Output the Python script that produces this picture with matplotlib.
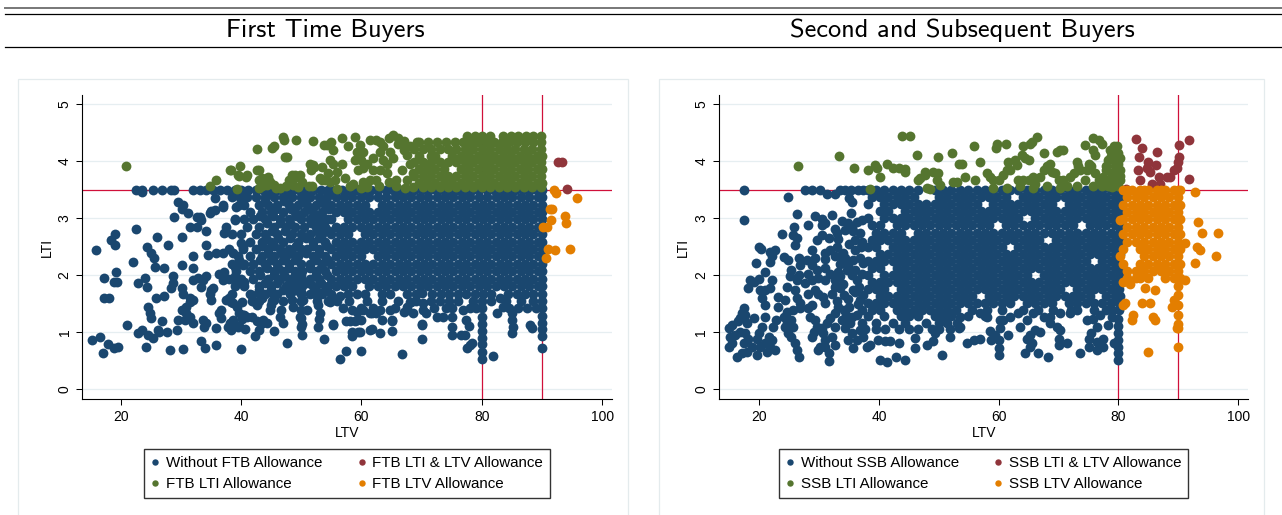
import os
import matplotlib
matplotlib.use('Agg')
import matplotlib.pyplot as plt
from matplotlib.font_manager import FontProperties
from matplotlib.lines import Line2D
from matplotlib.patches import Rectangle

plt.rcParams['font.family'] = ['Liberation Sans', 'DejaVu Sans']

# ---------------- data: (LTI level, [LTV values]) rows + loose (LTV, LTI) points
panel_titles = ['First Time Buyers', 'Second and Subsequent Buyers']
ftb_labels = ['Without FTB Allowance', 'FTB LTI & LTV Allowance', 'FTB LTI Allowance', 'FTB LTV Allowance']
ssb_labels = ['Without SSB Allowance', 'SSB LTI & LTV Allowance', 'SSB LTI Allowance', 'SSB LTV Allowance']
x_ticks = [20, 40, 60, 80, 100]
y_ticks = [0, 1, 2, 3, 4, 5]
lti_limit = 3.5
ftb_ltv_limits = [80, 90]
ssb_ltv_limits = [80, 90]

ftb_without_rows = [
    (3.50, [22.6, 23.6, 25.4, 26.8, 28.4, 28.9, 32.0, 33.1, 34.2, 35.4, 36.5, 37.7, 38.9, 40.0, 41.2, 42.4, 43.6, 44.8, 46.0, 47.2, 48.4, 49.6, 50.8, 52.0, 53.2, 54.4, 55.6, 56.8, 58.0, 59.2, 60.4, 61.6, 62.8, 64.0, 65.2, 66.4, 67.6, 68.8, 70.0, 71.2, 72.4, 73.6, 74.8, 76.0, 77.2, 78.4, 79.6, 80.8, 82.0, 83.2, 84.4, 85.6, 86.8, 88.0, 89.2, 90.0]),
    (3.43, [45.0, 48.0, 51.0, 54.5]),
    (3.37, [38.5, 39.8, 41.0, 42.5, 44.0, 45.5, 47.0, 48.5, 50.0, 51.5, 53.0, 54.2, 55.7, 57.1, 58.5, 59.9, 61.3, 62.7, 64.1, 65.5, 66.9, 68.3, 69.7, 71.1, 72.5, 73.9, 75.3, 76.7, 78.1, 79.5, 80.9, 82.3, 83.7, 85.1, 86.5, 87.9, 89.3, 90.0]),
    (3.30, [44.0, 47.2, 50.5, 53.8]),
    (3.24, [37.0, 40.5, 43.0, 44.5, 46.0, 48.0, 49.5, 51.0, 52.5, 54.0, 55.0, 56.4, 57.8, 59.2, 60.6, 63.4, 64.8, 66.2, 67.6, 69.0, 70.4, 71.8, 73.2, 74.6, 76.0, 77.4, 78.8, 80.2, 81.6, 83.0, 84.4, 85.8, 87.2, 88.6, 90.0]),
    (3.17, [45.8, 48.3, 51.2, 54.6]),
    (3.11, [41.5, 43.5, 45.0, 47.0, 49.0, 50.5, 52.0, 53.5, 55.7, 57.1, 58.5, 59.9, 61.3, 62.7, 64.1, 65.5, 66.9, 68.3, 69.7, 71.1, 72.5, 73.9, 75.3, 76.7, 78.1, 79.5, 80.9, 82.3, 83.7, 85.1, 86.5, 87.9, 89.3, 90.0]),
    (3.04, [43.2, 45.3, 49.2, 52.3]),
    (2.98, [39.0, 40.5, 42.0, 44.0, 46.5, 48.0, 50.0, 51.5, 53.0, 54.3, 55.0, 57.8, 59.2, 60.6, 62.0, 63.4, 64.8, 66.2, 67.6, 69.0, 70.4, 71.8, 73.2, 74.6, 76.0, 77.4, 78.8, 80.2, 81.6, 83.0, 84.4, 85.8, 87.2, 88.6, 90.0]),
    (2.91, [44.3, 46.5, 48.2, 51.6, 53.5]),
    (2.85, [41.0, 43.0, 45.5, 47.5, 49.0, 50.5, 52.5, 54.0, 55.7, 57.1, 58.5, 59.9, 61.3, 62.7, 64.1, 65.5, 66.9, 68.3, 69.7, 71.1, 72.5, 73.9, 75.3, 76.7, 78.1, 79.5, 80.9, 82.3, 83.7, 85.1, 86.5, 87.9, 89.3, 90.0]),
    (2.78, [45.2, 47.3, 52.6, 54.6]),
    (2.72, [38.5, 40.0, 42.5, 44.0, 46.0, 48.5, 50.0, 51.5, 53.5, 55.0, 56.4, 57.8, 60.6, 62.0, 63.4, 64.8, 66.2, 67.6, 69.0, 70.4, 71.8, 73.2, 74.6, 76.0, 77.4, 78.8, 80.2, 81.6, 83.0, 84.4, 85.8, 87.2, 88.6, 90.0]),
    (2.65, [44.2, 46.2, 48.2, 50.8, 53.0]),
    (2.59, [41.5, 43.5, 45.0, 47.0, 49.5, 52.0, 54.0, 55.7, 57.1, 58.5, 59.9, 61.3, 62.7, 64.1, 65.5, 66.9, 68.3, 69.7, 71.1, 72.5, 73.9, 75.3, 76.7, 78.1, 79.5, 80.9, 82.3, 83.7, 85.1, 86.5, 87.9, 89.3, 90.0]),
    (2.52, [43.5, 45.5, 49.2, 52.0, 54.2]),
    (2.46, [38.0, 40.3, 42.5, 44.5, 46.5, 48.0, 50.0, 51.0, 53.0, 55.0, 56.4, 57.8, 59.2, 60.6, 62.0, 63.4, 64.8, 66.2, 67.6, 69.0, 70.4, 71.8, 73.2, 74.6, 76.0, 77.4, 78.8, 80.2, 81.6, 83.0, 84.4, 85.8, 87.2, 88.6, 90.0]),
    (2.39, [44.5, 46.6, 48.5, 50.8, 53.0]),
    (2.33, [39.5, 41.5, 43.5, 45.5, 47.5, 49.5, 52.0, 54.0, 55.7, 57.1, 58.5, 59.9, 62.7, 64.1, 65.5, 66.9, 68.3, 69.7, 71.1, 72.5, 73.9, 75.3, 76.7, 78.1, 79.5, 80.9, 82.3, 83.7, 85.1, 86.5, 87.9, 89.3, 90.0]),
    (2.26, [43.1, 45.0, 47.0, 49.0, 52.5, 54.5]),
    (2.20, [38.5, 40.5, 42.0, 44.0, 46.0, 48.0, 50.0, 51.5, 53.5, 55.0, 56.4, 57.8, 59.2, 60.6, 62.0, 63.4, 64.8, 66.2, 67.6, 69.0, 70.4, 71.8, 73.2, 74.6, 76.0, 77.4, 78.8, 80.2, 81.6, 83.0, 84.4, 85.8, 87.2, 88.6, 90.0]),
    (2.13, [44.3, 46.2, 48.0, 51.5, 53.2]),
    (2.07, [39.2, 41.5, 43.0, 45.5, 47.0, 49.0, 50.2, 52.5, 54.0, 55.7, 57.1, 58.5, 59.9, 61.3, 62.7, 64.1, 65.5, 66.9, 68.3, 69.7, 71.1, 72.5, 73.9, 75.3, 76.7, 78.1, 79.5, 80.9, 82.3, 83.7, 85.1, 86.5, 87.9, 89.3, 90.0]),
    (2.00, [43.2, 45.5, 47.2, 49.0, 52.5, 54.2]),
    (1.94, [38.0, 40.0, 42.0, 44.5, 46.5, 48.0, 50.0, 51.5, 53.0, 55.0, 56.4, 57.8, 59.2, 60.6, 62.0, 63.4, 64.8, 66.2, 67.6, 69.0, 70.4, 71.8, 73.2, 74.6, 76.0, 77.4, 78.8, 80.2, 81.6, 83.0, 84.4, 85.8, 87.2, 88.6, 90.0]),
    (1.87, [44.0, 46.0, 48.6, 51.2, 53.2]),
    (1.81, [39.0, 40.5, 43.0, 45.0, 47.5, 49.5, 50.2, 52.0, 54.5, 55.7, 57.1, 58.5, 61.3, 62.7, 64.1, 65.5, 66.9, 68.3, 69.7, 71.1, 72.5, 73.9, 75.3, 76.7, 78.1, 79.5, 80.9, 82.3, 83.7, 85.1, 86.5, 87.9, 89.3, 90.0]),
    (1.74, [43.0, 45.0, 47.0, 49.0, 52.5, 54.0]),
    (1.68, [38.5, 41.5, 44.0, 46.0, 48.1, 50.0, 51.5, 53.5, 55.0, 57.8, 59.2, 60.6, 63.4, 64.8, 67.6, 69.0, 71.8, 73.2, 74.6, 76.0, 77.4, 78.8, 80.2, 81.6, 84.4, 85.8, 87.2, 88.6, 90.0]),
    (1.55, [41.8, 42.9, 45.1, 47.0, 50.0, 52.6, 54.5, 56.0, 58.0, 61.0, 63.5, 66.0, 69.0, 71.5, 73.0, 74.5, 76.0, 78.5, 80.0, 81.5, 84.0, 86.5, 88.5, 90.0]),
    (1.42, [57.0, 62.0, 65.5, 72.0, 74.0, 75.0, 78.0, 79.0, 80.0, 84.5, 86.0, 87.5, 89.0, 90.0]),
]
ftb_without_pts = [
    (15.2, .87), (15.9, 2.44), (16.6, .91), (17.0, .63), (17.2, 1.95), (17.2, 1.6), (18.0, 1.61), (17.8, .8), (18.4, 2.62),
    (19.1, 2.73), (19.1, 2.53), (19.2, 2.05), (18.8, 1.89), (19.4, 1.89), (18.9, .72), (19.6, .75), (21.0, 1.13), (22.1, 2.24),
    (22.6, 2.82), (23.6, 3.47), (22.8, 1.86), (22.9, .99), (23.5, 1.04), (24.0, 1.95), (24.3, 1.8), (24.3, 2.5), (24.2, .75),
    (24.6, .95), (25.4, .9), (24.6, 1.45), (24.8, 1.33), (25.0, 1.25), (25.1, 2.39), (25.5, 2.3), (25.7, 2.15), (25.8, 1.6),
    (26.1, 2.67), (26.2, 1.04), (26.4, 1.01), (26.8, 1.19), (27.1, 2.12), (27.2, 1.63), (27.7, 1.0), (27.8, 2.53), (28.2, .69),
    (28.4, 1.77), (28.7, 1.98), (28.7, 1.86), (28.8, 3.03), (29.4, 1.04), (29.5, 3.29), (30.3, 3.23), (30.1, 3.17), (30.1, 2.68),
    (30.1, 2.18), (30.2, 1.77), (30.3, 1.68), (30.4, .7), (29.5, 1.22), (30.6, 1.22), (30.9, 1.33), (30.1, 1.39), (30.9, 1.45),
    (31.5, 1.27), (32.0, 1.16), (31.5, 1.6), (31.5, 1.54), (32.0, 1.57), (31.2, 3.09), (31.5, 2.85), (32.0, 2.33), (32.0, 2.12),
    (32.0, 1.92), (32.8, 1.95), (32.6, 3.03), (33.1, 3.03), (33.4, 2.97), (32.6, 2.85), (33.4, .84), (34.0, .72), (33.7, 1.21),
    (34.2, 1.16), (33.9, 1.1), (33.7, 1.92), (34.2, 1.98), (33.4, 1.8), (34.2, 2.77), (34.2, 2.53), (34.5, 2.36), (34.8, 3.09),
    (35.0, 3.12), (35.6, 3.15), (34.8, 1.68), (35.0, 1.74), (35.3, 1.77), (35.0, 1.57), (35.6, 3.35), (35.9, .78), (35.9, 1.07),
    (35.9, 2.39), (36.4, 1.33), (36.7, 1.39), (36.7, 1.25), (36.4, 2.03), (37.0, 1.92), (37.2, 2.06), (37.0, 3.2), (37.2, 2.74),
    (37.5, 2.85), (37.0, 2.39), (37.8, 1.1), (38.3, 1.07), (38.6, 1.22), (38.1, 1.16), (38.0, 1.6), (37.5, 1.57), (38.3, 1.54),
    (38.6, 2.39), (38.9, 2.15), (38.9, 1.98), (39.2, 1.86), (38.9, 2.97), (39.2, 3.2), (40.0, .71), (39.7, 1.33), (40.3, 1.3),
    (39.4, 1.1), (40.0, 2.56), (40.3, 2.5), (39.7, 2.27), (40.3, 2.18), (39.7, 1.92), (40.5, 1.89), (39.6, 3.23), (39.8, 3.38),
    (42.3, .94), (47.7, .82), (50.1, .95), (53.8, .89), (56.4, .54), (57.4, .68), (60.0, .68), (66.7, .62), (55.2, 1.15),
    (57.5, 1.19), (58.9, 1.19), (60.0, 1.22), (58.4, 1.01), (59.5, 1.01), (61.4, 1.04), (63.1, .98), (65.0, 1.03), (65.0, 1.2),
    (70.0, .89), (70.0, 1.15), (52.8, 1.1), (53.0, 1.23), (50.2, 1.15), (49.8, 1.27), (47.0, 1.16), (46.5, 1.27), (46.7, 1.39),
    (44.8, 1.39), (44.9, 1.48), (43.7, 1.22), (44.3, 1.16), (45.4, 1.03), (42.9, 1.04), (43.3, 1.15), (42.6, 1.19), (41.8, 1.27),
    (41.0, 1.27), (40.4, 1.3), (38.7, 1.2), (38.4, 1.04), (39.7, 1.11), (40.6, 1.05), (40.1, 1.23), (38.7, 1.51), (39.3, 1.45),
    (40.1, 1.54), (42.3, 1.54), (42.6, 1.48), (41.8, 1.66), (42.9, 1.69), (43.4, 1.6), (45.1, 1.69), (45.4, 1.57), (48.4, 1.57),
    (48.7, 1.45), (48.1, 1.77), (48.9, 1.74), (50.3, 1.57), (50.9, 1.39), (52.6, 1.63), (52.8, 1.48), (53.1, 1.33), (54.8, 1.54),
    (55.6, 1.57), (56.4, 1.63), (58.4, 1.39), (59.2, 1.36), (60.0, 1.42), (61.4, 1.33), (62.5, 1.33), (63.4, 1.22), (65.0, 1.22),
    (67.0, 1.36), (67.5, 1.45), (68.3, 1.54), (70.0, 1.69), (70.3, 1.51), (70.8, 1.33), (58.4, .93), (59.8, 1.01), (61.7, 1.05),
    (70.0, 1.13), (70.3, 1.39), (72.5, 1.27), (73.6, 1.26), (75.0, .95), (75.0, 1.1), (75.0, 1.27), (76.6, .95), (77.2, .95),
    (77.6, .72), (78.0, .78), (78.3, .81), (80.0, .53), (80.0, .66), (80.0, .79), (80.0, .9), (80.0, 1.02), (80.0, 1.14),
    (80.0, 1.26), (81.9, .58), (85.0, .98), (85.2, 1.1), (85.0, 1.22), (85.0, 1.34), (88.0, 1.13), (88.3, 1.07), (90.0, .73),
    (90.0, .93), (90.0, 1.05), (90.0, 1.17), (90.0, 1.29), (83.0, 1.6), (83.6, 1.45), (82.5, 1.33), (77.4, 1.21), (77.8, 1.11),
    (76.9, 1.39), (67.5, 1.4), (68.6, 1.33), (68.0, 1.54), (64.7, 1.39), (63.1, 1.39), (61.7, 1.33), (60.3, 1.39), (59.2, 1.22),
    (58.1, 1.19), (55.2, 1.12), (49.9, 1.1), (49.9, 1.25), (49.9, 1.4), (49.9, 1.55), (49.9, 1.7), (49.9, 1.85), (49.9, 2.0),
]
ftb_both_pts = [(92.6, 3.99), (93.3, 3.99), (94.1, 3.51)]
ftb_lti_rows = [
    (4.44, [77.5, 78.8, 80.0, 81.3, 83.5, 84.8, 86.0, 87.3, 88.5, 89.8]),
    (4.34, [69.5, 71.0, 72.5, 74.0, 75.5, 76.8, 78.1, 79.4, 80.7, 82.0, 83.3, 84.6, 85.9, 87.2, 88.5, 89.8]),
    (4.22, [68.8, 70.2, 71.6, 73.0, 74.4, 75.8, 77.2, 78.6, 80.0, 81.4, 82.8, 84.2, 85.6, 87.0, 88.4, 89.8]),
    (4.10, [69.5, 71.5, 72.3, 75.1, 76.5, 77.9, 79.3, 80.7, 82.1, 83.5, 84.9, 86.3, 87.7, 89.1, 90.0]),
    (3.98, [68.8, 70.2, 71.6, 73.0, 74.4, 75.8, 77.2, 78.6, 80.0, 81.4, 82.8, 84.2, 85.6, 87.0, 88.4, 89.8]),
    (3.86, [69.5, 70.9, 72.3, 73.7, 76.5, 77.9, 79.3, 80.7, 82.1, 83.5, 84.9, 86.3, 87.7, 89.1, 90.0]),
    (3.74, [68.8, 70.2, 71.6, 73.0, 74.4, 75.8, 77.2, 78.6, 80.0, 81.4, 82.8, 84.2, 85.6, 87.0, 88.4, 89.8]),
    (3.62, [69.5, 70.9, 72.3, 73.7, 75.1, 76.5, 77.9, 79.3, 80.7, 82.1, 83.5, 84.9, 86.3, 87.7, 89.1, 90.0]),
    (3.55, [68.5, 70.2, 71.6, 73.0, 74.4, 75.8, 77.2, 78.6, 80.0, 81.4, 82.8, 84.2, 85.6, 87.0, 88.4, 89.8]),
]
ftb_lti_pts = [
    (20.9, 3.92), (34.8, 3.57), (35.8, 3.68), (38.2, 3.84), (39.3, 3.52), (39.8, 3.92), (39.6, 3.74), (40.8, 3.73), (38.4, 3.85),
    (39.5, 3.76), (40.9, 3.76), (42.6, 4.21), (42.6, 3.84), (42.9, 3.85), (43.0, 3.67), (43.5, 3.7), (43.0, 3.53), (43.7, 3.67),
    (44.8, 3.64), (43.4, 3.56), (44.3, 3.58), (44.4, 3.73), (44.6, 3.65), (45.4, 3.58), (45.2, 4.23), (45.4, 4.26), (45.8, 3.53),
    (46.5, 3.53), (46.9, 4.42), (47.1, 4.38), (47.3, 4.07), (47.6, 4.08), (47.4, 3.56), (48.0, 3.67), (48.5, 3.76), (48.7, 3.58),
    (49.0, 3.76), (49.1, 3.73), (49.2, 4.37), (49.5, 3.55), (49.8, 3.76), (50.1, 3.64), (51.4, 3.96), (51.6, 3.85), (51.9, 3.94),
    (52.1, 3.9), (51.9, 4.35), (51.3, 3.56), (51.7, 3.56), (53.1, 3.7), (53.5, 3.67), (53.9, 3.67), (53.8, 4.29), (53.5, 3.9),
    (54.2, 4.29), (54.5, 3.79), (54.8, 3.64), (54.8, 4.02), (55.0, 4.34), (55.3, 3.96), (55.3, 4.2), (55.6, 3.67), (55.9, 3.82),
    (55.9, 3.52), (56.7, 4.4), (57.8, 4.26), (58.9, 4.43), (59.7, 4.29), (59.2, 4.17), (60.3, 4.17), (58.9, 4.02), (60.0, 4.02),
    (60.3, 3.88), (59.5, 3.85), (62.0, 3.85), (61.4, 3.67), (60.3, 3.64), (58.6, 3.61), (58.1, 3.56), (60.0, 3.53), (62.5, 4.37),
    (63.1, 4.34), (63.6, 4.26), (64.5, 4.4), (65.3, 4.46), (66.1, 4.4), (66.1, 4.31), (64.7, 4.17), (65.3, 4.05), (63.1, 4.17),
    (63.6, 4.02), (64.2, 3.96), (62.0, 4.05), (63.1, 3.85), (64.2, 3.79), (62.5, 3.67), (64.5, 3.64), (65.8, 3.67), (65.8, 3.56),
    (67.2, 3.53), (68.1, 3.96), (67.5, 4.11), (68.1, 4.26), (67.0, 4.2), (69.2, 4.34), (68.6, 3.79), (67.5, 3.67), (60.9, 3.96),
    (61.4, 4.37), (57.2, 3.7), (56.8, 3.95), (61.0, 3.55), (63.0, 3.56), (66.8, 3.85), (67.0, 4.35),
]
ftb_ltv_pts = [
    (92.0, 3.5), (92.3, 3.45), (95.9, 3.35), (91.3, 3.17), (91.7, 3.16), (91.5, 2.97), (93.9, 3.04), (94.0, 2.91),
    (90.1, 2.84), (90.8, 2.84), (91.0, 2.47), (92.1, 2.44), (94.6, 2.46), (90.7, 2.3),
]

ssb_without_rows = [
    (3.50, [17.5, 27.7, 28.9, 30.2, 33.5, 34.4, 35.4, 36.5, 37.4, 38.1, 39.5, 40.9, 42.3, 43.7, 45.1, 46.5, 49.3, 50.7, 52.1, 53.5, 54.9, 56.3, 57.7, 59.1, 60.5, 61.9, 63.3, 64.7, 66.1, 67.5, 68.9, 70.3, 71.7, 73.1, 74.5, 75.9, 77.3, 78.7, 80.1]),
    (3.42, [31.3, 32.7]),
    (3.38, [38.8, 40.2, 41.6, 43.0, 44.4, 45.8, 50.0, 51.4, 52.8, 54.2, 55.6, 57.0, 58.4, 59.8, 61.2, 64.0, 65.4, 66.8, 68.2, 69.6, 71.0, 72.4, 73.8, 75.2, 76.6, 78.0, 79.4, 80.3]),
    (3.25, [38.1, 40.9, 42.3, 43.7, 45.1, 46.5, 47.9, 49.3, 50.7, 52.1, 53.5, 54.9, 56.3, 59.1, 60.5, 61.9, 63.3, 64.7, 66.1, 67.5, 68.9, 71.7, 73.1, 74.5, 75.9, 77.3, 78.7, 80.1]),
    (3.12, [40.2, 41.6, 44.4, 45.8, 47.2, 48.6, 50.0, 51.4, 52.8, 54.2, 55.6, 57.0, 58.4, 59.8, 61.2, 62.6, 64.0, 65.4, 66.8, 68.2, 69.6, 71.0, 72.4, 73.8, 75.2, 76.6, 78.0, 79.4, 80.3]),
    (3.00, [38.1, 40.9, 42.3, 43.7, 45.1, 46.5, 47.9, 49.3, 50.7, 52.1, 53.5, 54.9, 56.3, 57.7, 59.1, 60.5, 61.9, 63.3, 66.1, 67.5, 68.9, 70.3, 71.7, 73.1, 74.5, 75.9, 77.3, 78.7, 80.1]),
    (2.88, [38.8, 40.2, 43.0, 44.4, 45.8, 47.2, 48.6, 50.0, 51.4, 52.8, 54.2, 55.6, 57.0, 58.4, 61.2, 62.6, 64.0, 65.4, 66.8, 68.2, 69.6, 71.0, 72.4, 75.2, 76.6, 78.0, 79.4, 80.3]),
    (2.75, [39.5, 40.9, 42.3, 43.7, 46.5, 47.9, 49.3, 50.7, 52.1, 53.5, 54.9, 56.3, 57.7, 59.1, 60.5, 61.9, 63.3, 64.7, 66.1, 67.5, 68.9, 70.3, 71.7, 73.1, 74.5, 75.9, 77.3, 78.7, 80.1]),
    (2.62, [38.8, 40.2, 41.6, 43.0, 44.4, 45.8, 47.2, 48.6, 50.0, 51.4, 52.8, 54.2, 55.6, 57.0, 58.4, 59.8, 61.2, 62.6, 64.0, 65.4, 66.8, 69.6, 71.0, 72.4, 73.8, 75.2, 76.6, 78.0, 79.4, 80.3]),
    (2.50, [38.1, 39.5, 42.3, 43.7, 45.1, 46.5, 47.9, 49.3, 50.7, 52.1, 53.5, 54.9, 56.3, 57.7, 59.1, 60.5, 63.3, 64.7, 66.1, 67.5, 68.9, 70.3, 71.7, 73.1, 74.5, 75.9, 77.3, 78.7, 80.1]),
    (2.38, [40.2, 41.6, 43.0, 44.4, 45.8, 47.2, 48.6, 50.0, 51.4, 52.8, 54.2, 55.6, 57.0, 58.4, 59.8, 61.2, 62.6, 64.0, 65.4, 66.8, 68.2, 69.6, 71.0, 72.4, 73.8, 75.2, 76.6, 78.0, 79.4, 80.3]),
    (2.25, [38.1, 39.5, 40.9, 42.3, 43.7, 45.1, 46.5, 47.9, 49.3, 50.7, 52.1, 53.5, 54.9, 56.3, 57.7, 59.1, 60.5, 61.9, 63.3, 64.7, 66.1, 67.5, 68.9, 70.3, 71.7, 73.1, 74.5, 77.3, 78.7, 80.1]),
    (2.12, [38.8, 40.2, 43.0, 44.4, 45.8, 47.2, 48.6, 50.0, 51.4, 52.8, 54.2, 55.6, 57.0, 58.4, 59.8, 61.2, 62.6, 64.0, 65.4, 66.8, 68.2, 69.6, 71.0, 72.4, 73.8, 75.2, 76.6, 78.0, 79.4, 80.3]),
    (2.00, [38.1, 40.9, 42.3, 43.7, 45.1, 46.5, 47.9, 49.3, 50.7, 52.1, 53.5, 54.9, 56.3, 57.7, 59.1, 60.5, 61.9, 63.3, 64.7, 67.5, 68.9, 70.3, 71.7, 73.1, 74.5, 75.9, 77.3, 78.7, 80.1]),
    (1.88, [38.8, 40.2, 41.6, 43.0, 44.4, 45.8, 47.2, 48.6, 50.0, 51.4, 52.8, 54.2, 55.6, 57.0, 58.4, 59.8, 61.2, 62.6, 64.0, 65.4, 66.8, 68.2, 69.6, 71.0, 72.4, 73.8, 75.2, 76.6, 78.0, 79.4, 80.3]),
    (1.76, [38.1, 39.5, 40.9, 43.7, 45.1, 46.5, 47.9, 49.3, 50.7, 52.1, 53.5, 54.9, 56.3, 57.7, 59.1, 60.5, 61.9, 63.3, 64.7, 66.1, 67.5, 68.9, 70.3, 73.1, 74.5, 75.9, 77.3, 78.7, 80.1]),
    (1.64, [40.2, 41.6, 43.0, 44.4, 45.8, 47.2, 48.6, 50.0, 51.4, 52.8, 54.2, 55.6, 58.4, 59.8, 61.2, 62.6, 64.0, 65.4, 66.8, 68.2, 69.6, 71.0, 72.4, 73.8, 75.2, 78.0, 79.4, 80.3]),
    (1.52, [38.1, 39.5, 40.9, 42.3, 43.7, 45.1, 46.5, 47.9, 49.3, 50.7, 52.1, 53.5, 54.9, 56.3, 57.7, 59.1, 60.5, 61.9, 64.7, 66.1, 67.5, 68.9, 71.7, 73.1, 74.5, 75.9, 77.3, 78.7, 80.1]),
    (1.40, [38.8, 40.2, 43.0, 44.4, 45.8, 47.2, 48.6, 50.0, 51.4, 52.8, 55.5, 58.0, 60.5, 64.0, 66.5, 69.0, 72.0, 76.0, 79.0, 80.1]),
    (1.28, [38.1, 40.9, 43.7, 45.1, 46.5, 49.3, 50.7, 52.1, 54.9, 57.7]),
    (1.16, [39.5, 42.3, 44.4, 47.9, 50.0, 51.4, 53.0]),
    (1.05, [37.7, 39.5, 41.0, 43.3, 45.0, 46.6, 48.8, 50.0, 51.9]),
]
ssb_without_pts = [
    (17.5, 2.97), (24.9, 3.38), (35.0, 3.35), (35.5, 3.29), (26.3, 3.07), (29.3, 3.04), (32.1, 3.06), (30.5, 2.98), (35.4, 3.1),
    (28.2, 2.89), (31.0, 2.91), (33.8, 2.95), (36.3, 2.94), (37.1, 2.97), (25.9, 2.84), (30.5, 2.88), (32.7, 2.81), (34.9, 2.91),
    (35.7, 2.77), (34.4, 2.79), (36.9, 2.74), (23.9, 2.72), (25.7, 2.71), (26.3, 2.65), (26.0, 2.53), (29.6, 2.62), (30.5, 2.71),
    (31.6, 2.65), (33.2, 2.63), (36.0, 2.62), (37.1, 2.59), (19.9, 2.5), (20.3, 2.46), (21.8, 2.41), (22.7, 2.44), (22.1, 2.33),
    (24.1, 2.32), (24.9, 2.27), (26.6, 2.3), (26.8, 2.18), (28.0, 2.27), (28.8, 2.44), (29.3, 2.3), (28.8, 2.18), (31.0, 2.28),
    (31.0, 2.39), (31.8, 2.44), (32.7, 2.33), (33.5, 2.33), (34.4, 2.3), (34.9, 2.18), (35.7, 2.27), (36.9, 2.3), (37.4, 2.21),
    (19.4, 2.22), (21.8, 2.24), (25.4, 2.09), (26.6, 2.01), (25.2, 1.98), (28.2, 2.03), (29.6, 2.09), (31.0, 2.12), (31.8, 2.03),
    (33.2, 2.06), (33.5, 1.98), (32.7, 1.92), (34.6, 2.09), (35.5, 2.01), (36.3, 1.92), (37.1, 2.03), (31.0, 1.92), (29.9, 1.95),
    (28.8, 1.92), (27.7, 1.86), (26.3, 1.92), (21.0, 2.05), (22.1, 1.92), (21.0, 1.74), (21.8, 1.77), (19.9, 1.93), (18.5, 1.92),
    (18.2, 1.77), (19.1, 1.89), (20.1, 1.74), (20.4, 1.6), (21.0, 1.48), (23.2, 1.62), (24.3, 1.57), (24.6, 1.8), (26.0, 1.74),
    (26.3, 1.6), (26.8, 1.51), (28.2, 1.68), (29.3, 1.74), (29.9, 1.68), (30.7, 1.62), (31.0, 1.51), (32.1, 1.68), (32.7, 1.8),
    (33.5, 1.77), (34.1, 1.65), (34.9, 1.59), (35.7, 1.74), (36.6, 1.8), (36.9, 1.57), (37.4, 1.65), (17.4, 1.42), (16.8, 1.25),
    (16.5, 1.19), (15.4, 1.13), (14.9, 1.07), (15.2, .92), (16.0, .95), (17.1, 1.33), (17.7, 1.3), (17.9, 1.16), (19.1, 1.25),
    (16.8, 1.01), (17.7, .98), (18.2, .89), (17.4, .81), (15.4, .81), (14.9, .75), (16.3, .57), (17.1, .63), (17.9, .66),
    (18.8, .75), (19.6, .89), (19.9, .98), (20.2, .75), (21.0, .81), (21.6, .92), (22.1, .86), (21.8, .75), (22.7, .69),
    (21.3, .66), (19.6, .6), (21.0, 1.27), (20.4, 1.1), (22.4, 1.1), (22.9, 1.22), (24.1, 1.27), (24.6, 1.16), (25.4, 1.22),
    (25.7, 1.1), (24.9, .98), (25.4, .92), (26.0, .81), (26.3, .69), (26.6, .57), (24.3, 1.1), (23.2, 1.45), (24.6, 1.36),
    (25.7, 1.39), (26.8, 1.42), (28.2, 1.42), (28.8, 1.48), (28.5, 1.27), (29.3, 1.22), (29.6, 1.1), (29.1, 1.01), (28.8, .92),
    (30.5, 1.07), (30.7, .98), (31.0, .87), (30.2, .75), (29.9, .69), (31.0, .75), (31.6, .63), (32.7, .78), (32.1, .92),
    (31.3, 1.16), (31.8, 1.25), (32.7, 1.33), (33.2, 1.45), (34.1, 1.39), (33.8, 1.22), (32.7, 1.1), (34.4, 1.07), (35.2, 1.16),
    (35.5, 1.27), (36.3, 1.3), (37.1, 1.39), (35.5, .98), (34.9, .87), (35.7, .72), (36.3, .87), (36.9, 1.04), (37.1, 1.16),
    (37.4, .92), (31.6, .49), (33.0, 2.5), (34.0, 2.4), (35.0, 2.55), (36.0, 2.45), (37.0, 2.5), (33.5, 2.2), (36.0, 2.1),
    (34.0, 1.85), (36.0, 1.7), (33.0, 1.55), (35.0, 1.45), (36.5, 1.5), (34.5, 1.3), (33.0, 2.75), (35.5, 2.85),
    (38.0, .75), (38.5, .78), (39.9, .87), (41.0, .84), (41.9, .84), (43.3, .81), (40.2, .51), (41.3, .48), (42.8, .56),
    (44.4, .52), (46.0, .72), (46.0, .9), (48.0, .78), (49.1, .84), (49.4, .98), (50.5, .6), (51.9, .92), (53.3, 1.07),
    (54.7, .81), (55.8, .86), (56.9, .89), (58.8, .87), (60.0, .87), (58.6, 1.03), (60.2, 1.22), (60.0, .6), (60.0, .72),
    (59.4, .95), (60.2, 1.07), (61.6, .95), (63.6, 1.1), (64.7, .89), (65.2, .75), (65.5, .81), (65.2, .95), (64.4, .63),
    (66.6, .64), (68.3, .57), (66.1, 1.04), (66.9, 1.01), (70.0, .89), (70.0, .78), (71.4, .81), (68.6, 1.16), (69.7, 1.1),
    (70.3, 1.04), (73.6, .63), (75.0, .75), (76.4, .69), (77.5, .75), (76.4, .83), (75.0, .89), (75.5, .98), (76.4, 1.1),
    (78.3, 1.13), (77.5, .89), (79.3, .81), (80.0, .51), (80.0, .63), (80.0, .75), (80.0, .87), (80.0, .99), (80.0, 1.11),
    (80.0, 1.23), (53.6, 1.1), (53.6, 1.27), (56.9, 1.33), (58.0, 1.27), (60.8, 1.21), (61.9, 1.27), (63.3, 1.33), (64.7, 1.21),
    (65.8, 1.33), (67.5, 1.27), (68.6, 1.27), (70.3, 1.33), (71.9, 1.33), (73.0, 1.39), (74.7, 1.21), (75.8, 1.24), (76.9, 1.3),
    (78.0, 1.39), (78.9, 1.27),
]
ssb_both_pts = [
    (82.9, 4.39), (83.9, 4.24), (83.4, 4.07), (86.4, 4.16), (85.0, 3.99), (84.7, 3.88), (85.3, 3.82), (83.2, 3.85),
    (83.6, 3.67), (86.3, 3.93), (86.8, 3.72), (88.1, 3.72), (89.2, 3.84), (89.7, 3.88), (90.0, 3.99), (90.1, 4.07),
    (90.1, 4.29), (91.8, 4.37), (91.8, 3.69), (85.6, 3.61), (86.9, 3.61), (81.2, 3.51), (88.6, 3.72),
]
ssb_lti_pts = [
    (26.5, 3.91), (33.4, 4.09), (35.9, 3.89), (38.2, 3.84), (39.4, 3.94), (39.6, 3.88), (38.5, 3.52), (40.2, 3.72), (41.3, 3.96),
    (42.4, 3.89), (43.3, 3.89), (44.4, 3.86), (44.4, 3.82), (43.8, 4.44), (45.2, 4.44), (46.3, 4.11), (46.6, 3.67), (46.9, 3.7),
    (47.7, 3.82), (47.7, 3.76), (48.0, 3.53), (48.5, 3.52), (49.1, 3.82), (49.9, 3.79), (49.9, 4.08), (49.7, 3.67), (50.2, 3.58),
    (52.2, 4.15), (52.4, 3.64), (53.0, 3.64), (53.3, 3.96), (55.8, 4.27), (59.7, 4.31), (59.6, 4.23), (61.2, 4.31), (64.1, 4.27),
    (65.2, 4.31), (65.5, 4.34), (66.4, 4.42), (63.9, 4.11), (64.4, 4.05), (65.0, 4.02), (67.5, 4.14), (69.7, 4.17), (70.3, 4.2),
    (70.8, 4.2), (74.4, 4.29), (75.8, 4.4), (76.7, 4.38), (77.2, 4.31), (75.8, 4.2), (76.1, 4.11), (53.8, 3.96), (54.4, 3.73),
    (56.1, 3.67), (56.9, 3.99), (58.0, 3.79), (58.6, 3.73), (59.1, 3.67), (60.0, 3.67), (60.8, 3.76), (61.6, 3.99), (61.4, 3.85),
    (61.9, 3.85), (62.7, 4.02), (63.0, 3.93), (63.3, 3.67), (64.1, 3.67), (65.0, 3.67), (65.8, 3.73), (66.1, 3.61), (66.9, 3.73),
    (67.5, 3.85), (68.0, 3.91), (68.6, 3.96), (68.9, 3.82), (69.4, 3.79), (70.0, 3.67), (70.8, 3.67), (71.4, 3.56), (71.9, 3.73),
    (72.5, 3.79), (73.0, 3.99), (73.3, 3.91), (73.6, 3.85), (74.4, 3.67), (74.7, 3.85), (75.0, 3.96), (75.5, 3.91), (76.1, 3.79),
    (76.7, 3.67), (77.2, 3.56), (77.5, 3.73), (78.0, 3.85), (78.3, 4.02), (78.6, 4.2), (79.2, 4.26), (79.7, 4.26), (80.0, 4.14),
    (79.2, 4.02), (79.4, 3.91), (79.7, 3.73), (79.2, 3.61), (80.0, 3.56), (80.3, 3.85), (80.3, 3.67), (78.3, 3.56), (75.8, 3.56),
    (73.0, 3.56), (70.3, 3.53), (68.0, 3.56), (65.8, 3.53), (63.6, 3.56), (61.4, 3.53), (59.1, 3.53), (77.8, 3.65), (78.8, 3.7),
    (79.8, 3.62), (78.9, 3.8), (79.9, 3.95), (78.8, 4.1), (80.2, 4.05), (79.0, 3.55), (80.2, 3.75), (77.9, 3.92),
]
ssb_ltv_rows = [
    (3.50, [80.8, 81.5, 82.2, 83.6, 84.3, 85.0, 86.4, 87.1, 87.8, 89.2, 89.9, 90.3]),
    (3.37, [81.5, 82.9, 84.3, 85.7, 87.1, 88.5, 89.9]),
    (3.24, [80.8, 82.2, 83.6, 85.0, 86.4, 87.8, 89.2, 90.3]),
    (3.11, [81.5, 82.9, 84.3, 85.7, 87.1, 88.5, 89.9]),
    (2.98, [80.8, 82.2, 83.6, 85.0, 86.4, 87.8, 89.2, 90.3]),
    (2.85, [81.5, 82.9, 84.3, 85.7, 87.1, 88.5, 89.9]),
    (2.72, [80.8, 82.2, 83.6, 85.0, 86.4, 87.8, 89.2, 90.3]),
    (2.59, [81.5, 82.9, 84.3, 85.7, 87.1, 88.5, 89.9]),
    (2.46, [80.8, 83.6, 85.0, 86.4, 87.8, 89.2, 90.3]),
    (2.33, [84.3, 85.7, 87.1, 88.5, 89.9]),
    (2.20, [80.8, 83.6, 85.0, 86.4, 87.8, 89.2, 90.3]),
    (2.07, [81.5, 82.9, 84.3, 85.7, 87.1, 88.5, 89.9]),
    (1.95, [81.5, 83.6, 85.0, 87.8, 89.2, 90.3]),
]
ssb_ltv_pts = [
    (92.8, 3.47), (93.3, 2.94), (93.9, 2.75), (96.7, 2.75), (93.1, 2.5), (93.6, 2.44), (92.8, 2.21), (96.3, 2.33),
    (91.1, 2.56), (91.1, 1.92), (80.3, 2.97), (80.2, 2.33), (80.8, 1.89), (80.8, 1.48), (81.1, 1.51), (82.5, 1.3),
    (82.2, 1.22), (83.9, 1.51), (85.3, 1.51), (85.8, 1.27), (86.1, 1.22), (85.0, .66), (88.9, 1.45), (89.2, 1.57),
    (84.4, 1.77), (86.1, 1.74), (90.0, 1.82), (90.0, 1.65), (90.0, 1.48), (90.0, 1.3), (90.0, 1.15), (89.7, 1.07),
    (90.0, 1.07), (90.0, .75), (82.0, 1.85), (83.0, 1.95),
]

colors = ['#1a476f', '#90353b', '#55752f', '#e37e00']
ref_color = '#d0103a'


def unpack(rows, pts):
    ltv, lti = [], []
    for level, values in rows:
        ltv += values
        lti += [level] * len(values)
    for a, b in pts:
        ltv.append(a)
        lti.append(b)
    return ltv, lti


W, H = 1282, 515
fig = plt.figure(figsize=(W / 100, H / 100), dpi=100)

# header rules and titles (table-like header)
for ypx, lw, c in [(7.5, 1.4, '#777777'), (14, 0.9, 'black'), (46.7, 0.9, 'black')]:
    fig.add_artist(Line2D([5 / W, 1], [1 - ypx / H] * 2, transform=fig.transFigure, color=c, lw=lw))
cmss = FontProperties(fname=os.path.join(matplotlib.get_data_path(), 'fonts', 'ttf', 'cmss10.ttf'), size=19)
fig.text(325.5 / W, 1 - 36.7 / H, panel_titles[0], fontproperties=cmss, ha='center', va='baseline')
fig.text(962 / W, 1 - 36.7 / H, panel_titles[1], fontproperties=cmss, ha='center', va='baseline')

# light panel frames
for x0, x1 in [(18, 627.5), (659.3, 1264)]:
    fig.add_artist(Rectangle((x0 / W, -0.05), (x1 - x0) / W, 1 - 79.3 / H + 0.05, transform=fig.transFigure,
                             fill=False, edgecolor='#e4ebed', lw=0.9))

panels = [
    dict(left=82.3, xlim=(13.6, 101.6), labels=ftb_labels, vlines=ftb_ltv_limits,
         groups=[unpack(ftb_without_rows, ftb_without_pts), unpack([], ftb_both_pts),
                 unpack(ftb_lti_rows, ftb_lti_pts), unpack([], ftb_ltv_pts)]),
    dict(left=719.0, xlim=(13.3, 101.7), labels=ssb_labels, vlines=ssb_ltv_limits,
         groups=[unpack(ssb_without_rows, ssb_without_pts), unpack([], ssb_both_pts),
                 unpack([], ssb_lti_pts), unpack(ssb_ltv_rows, ssb_ltv_pts)]),
]

for p in panels:
    ax = fig.add_axes([p['left'] / W, 1 - 399 / H, 529.4 / W, 304 / H])
    ax.set_xlim(*p['xlim'])
    ax.set_ylim(-0.17, 5.163)
    ax.set_xticks(x_ticks)
    ax.set_yticks(y_ticks)
    ax.grid(axis='y', color='#e6eef1', lw=0.9, zorder=0)
    ax.set_axisbelow(True)
    for s in ['top', 'right']:
        ax.spines[s].set_visible(False)
    for s in ['left', 'bottom']:
        ax.spines[s].set_linewidth(0.8)
    ax.tick_params(length=4.2, width=0.75, labelsize=10, pad=3.5)
    for lbl in ax.get_yticklabels():
        lbl.set_rotation(90)
        lbl.set_va('center')
    ax.set_xlabel('LTV', fontsize=10, labelpad=1.5)
    ax.set_ylabel('LTI', fontsize=10, labelpad=3)

    ax.axhline(lti_limit, color=ref_color, lw=0.9, zorder=1)
    for v in p['vlines']:
        ax.axvline(v, color=ref_color, lw=0.9, zorder=1)

    for (xs, ys), c in zip(p['groups'], colors):
        ax.scatter(xs, ys, s=50, color=c, linewidths=0, zorder=2)

    handles = [Line2D([], [], marker='o', ls='', color=c, markersize=4.6, markeredgewidth=0) for c in colors]
    order = [0, 2, 1, 3]
    fig.legend([handles[i] for i in order], [p['labels'][i] for i in order], ncol=2,
               loc='upper center', bbox_to_anchor=((p['left'] + 264.7) / W, 1 - 449 / H),
               bbox_transform=fig.transFigure, fontsize=10.9, frameon=True, fancybox=False,
               edgecolor='#333333', framealpha=1, borderpad=0.45, labelspacing=0.5,
               handlelength=0.6, handletextpad=0.4, columnspacing=2.3, borderaxespad=0)

fig.savefig('out.png', dpi=100)
